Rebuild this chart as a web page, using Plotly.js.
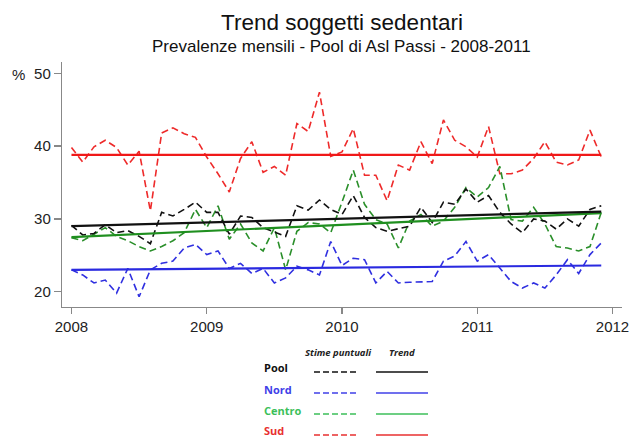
<!DOCTYPE html>
<html>
<head>
<meta charset="utf-8">
<script src="https://cdn.plot.ly/plotly-3.0.1.min.js"></script>
<style>html,body{margin:0;padding:0;background:#fff}#chart{width:630px;height:439px}</style>
</head>
<body>
<div id="chart"></div>
<script>
// Monthly estimates Jan 2008 – Dec 2011
var startYear = 2008;
var pool = [29.1,27.8,28.0,29.2,28.1,28.4,27.6,26.6,30.9,30.4,31.3,32.3,
            30.9,30.9,27.9,30.4,30.2,28.8,28.2,27.6,31.8,31.2,32.6,31.3,
            30.6,33.2,30.2,28.8,28.3,28.6,29.0,31.6,29.5,32.3,32.0,34.1,
            32.3,33.2,30.9,29.3,28.1,30.0,29.7,28.6,30.0,29.0,31.3,31.8];
var nord = [23.0,22.3,21.2,21.6,19.8,23.2,19.3,23.0,23.9,24.2,26.0,26.5,
            25.1,25.6,23.2,23.9,22.5,23.2,21.2,21.9,23.5,23.0,22.3,26.9,
            23.6,24.6,24.4,21.2,22.8,21.2,21.3,21.3,21.4,24.2,24.9,26.9,
            24.2,25.1,23.2,21.4,20.5,21.2,20.5,22.3,24.4,22.5,25.1,26.7];
var centro = [27.4,27.0,27.9,28.8,27.6,27.0,26.2,25.6,26.2,27.0,28.1,31.3,
              28.8,31.8,27.2,29.3,26.7,25.6,28.8,23.0,28.3,29.5,29.3,28.1,
              32.3,36.7,32.0,29.9,29.3,26.0,29.7,30.6,29.0,29.7,31.6,34.3,
              33.0,34.3,37.2,29.9,29.7,31.6,29.3,26.2,26.0,25.6,26.2,30.9];
var sud = [39.8,37.8,39.9,40.8,39.8,37.4,39.3,31.1,41.8,42.5,41.7,41.2,
           38.5,36.2,33.7,38.3,40.6,36.4,37.2,36.0,43.1,42.0,47.4,38.6,
           39.2,42.4,36.0,36.0,32.5,37.4,36.7,40.6,37.6,43.6,40.8,39.9,
           38.5,42.7,36.2,36.2,36.7,38.3,40.6,37.8,37.4,38.1,42.2,38.5];
// Trend lines: value at first and last month
var trendPool = [29.0, 31.0];
var trendNord = [23.0, 23.6];
var trendCentro = [27.5, 30.8];
var trendSud = [38.8, 38.8];
var yearTicks = [2008, 2009, 2010, 2011, 2012];
var pctTicks = [20, 30, 40, 50];
var seriesNames = ['Pool', 'Nord', 'Centro', 'Sud'];

var months = pool.map(function(_, i){ return startYear + i/12; });
var trendX = [months[0], months[months.length-1]];

var cols = {Pool:'#111111', Nord:'#2a2ae0', Centro:'#1f8f1f', Sud:'#f01818'};
var dashCols = {Pool:'#111111', Nord:'#3030e0', Centro:'#2a8f2a', Sud:'#ee2a2a'};
var legCols = {Pool:'#111111', Nord:'#4040e8', Centro:'#3cbf5a', Sud:'#e83030'};
var series = {Pool:pool, Nord:nord, Centro:centro, Sud:sud};
var trends = {Pool:trendPool, Nord:trendNord, Centro:trendCentro, Sud:trendSud};

var traces = [];
['Sud','Nord','Centro','Pool'].forEach(function(n){
  traces.push({x:months, y:series[n], mode:'lines', type:'scatter',
    line:{color:dashCols[n], width:1.6, dash:'7px,4px'}, showlegend:false, hoverinfo:'skip'});
});
['Sud','Nord','Centro','Pool'].forEach(function(n){
  traces.push({x:trendX, y:trends[n], mode:'lines', type:'scatter',
    line:{color:cols[n], width:2.2}, showlegend:false, hoverinfo:'skip'});
});

// legend geometry (paper coords)
var pl = 62, pr = 622, pt = 62, pb = 307;
function px(x){ return (x - pl)/(pr - pl); }
function py(y){ return (pb - y)/(pb - pt); }
var rowY = [368, 389, 410, 431];
var shapes = [], ann = [];
seriesNames.forEach(function(n, k){
  ann.push({xref:'paper', yref:'paper', x:px(262), y:py(rowY[k]), xanchor:'left', yanchor:'middle',
    text:'<b>'+n+'</b>', showarrow:false, font:{family:'Open Sans, Liberation Sans', size:11, color:legCols[n]}});
  shapes.push({type:'line', xref:'paper', yref:'paper', x0:px(314), x1:px(358), y0:py(rowY[k]+4), y1:py(rowY[k]+4),
    line:{color:legCols[n], width:1.3, dash:'6px,3px'}});
  shapes.push({type:'line', xref:'paper', yref:'paper', x0:px(376), x1:px(428), y0:py(rowY[k]+4), y1:py(rowY[k]+4),
    line:{color:legCols[n], width:1.3}});
});
ann.push({xref:'paper', yref:'paper', x:px(338), y:py(352), xanchor:'center', yanchor:'middle',
  text:'<b><i>Stime puntuali</i></b>', showarrow:false, font:{family:'Open Sans, Liberation Sans', size:9.5, color:'#222'}});
ann.push({xref:'paper', yref:'paper', x:px(402), y:py(352), xanchor:'center', yanchor:'middle',
  text:'<b><i>Trend</i></b>', showarrow:false, font:{family:'Open Sans, Liberation Sans', size:9.5, color:'#222'}});
ann.push({xref:'paper', yref:'paper', x:px(341), y:py(47), xanchor:'center', yanchor:'middle',
  text:'Prevalenze mensili - Pool di Asl Passi - 2008-2011', showarrow:false,
  font:{family:'Liberation Sans, Arial', size:17, color:'#111'}});
ann.push({xref:'paper', yref:'paper', x:px(18), y:py(74), xanchor:'center', yanchor:'middle',
  text:'%', showarrow:false, font:{family:'Liberation Sans, Arial', size:15, color:'#222'}});

var layout = {
  width:630, height:439,
  margin:{l:pl, r:630-pr, t:pt, b:439-pb, pad:0},
  paper_bgcolor:'#fff', plot_bgcolor:'#fff',
  title:{text:'Trend soggetti sedentari', x:0.5, xref:'paper', y:1-22/439, yref:'container', yanchor:'middle',
    font:{family:'Liberation Sans, Arial', size:22.5, color:'#111'}},
  xaxis:{range:[2007.93, 2012.07], tickvals:yearTicks, ticktext:yearTicks.map(String),
    showgrid:false, zeroline:false, showline:true, linecolor:'#888', linewidth:1.2,
    ticks:'outside', ticklen:6, tickcolor:'#888', tickwidth:1.2,
    tickfont:{family:'Liberation Sans, Arial', size:15, color:'#222'}},
  yaxis:{range:[17.9, 51.55], tickvals:pctTicks, ticktext:pctTicks.map(String),
    showgrid:false, zeroline:false, showline:true, linecolor:'#888', linewidth:1.2,
    ticks:'outside', ticklen:7, tickcolor:'#888', tickwidth:1.2,
    tickfont:{family:'Liberation Sans, Arial', size:15, color:'#222'}},
  shapes:shapes, annotations:ann, showlegend:false
};
Plotly.newPlot('chart', traces, layout, {displayModeBar:false, staticPlot:true});
</script>
</body>
</html>
